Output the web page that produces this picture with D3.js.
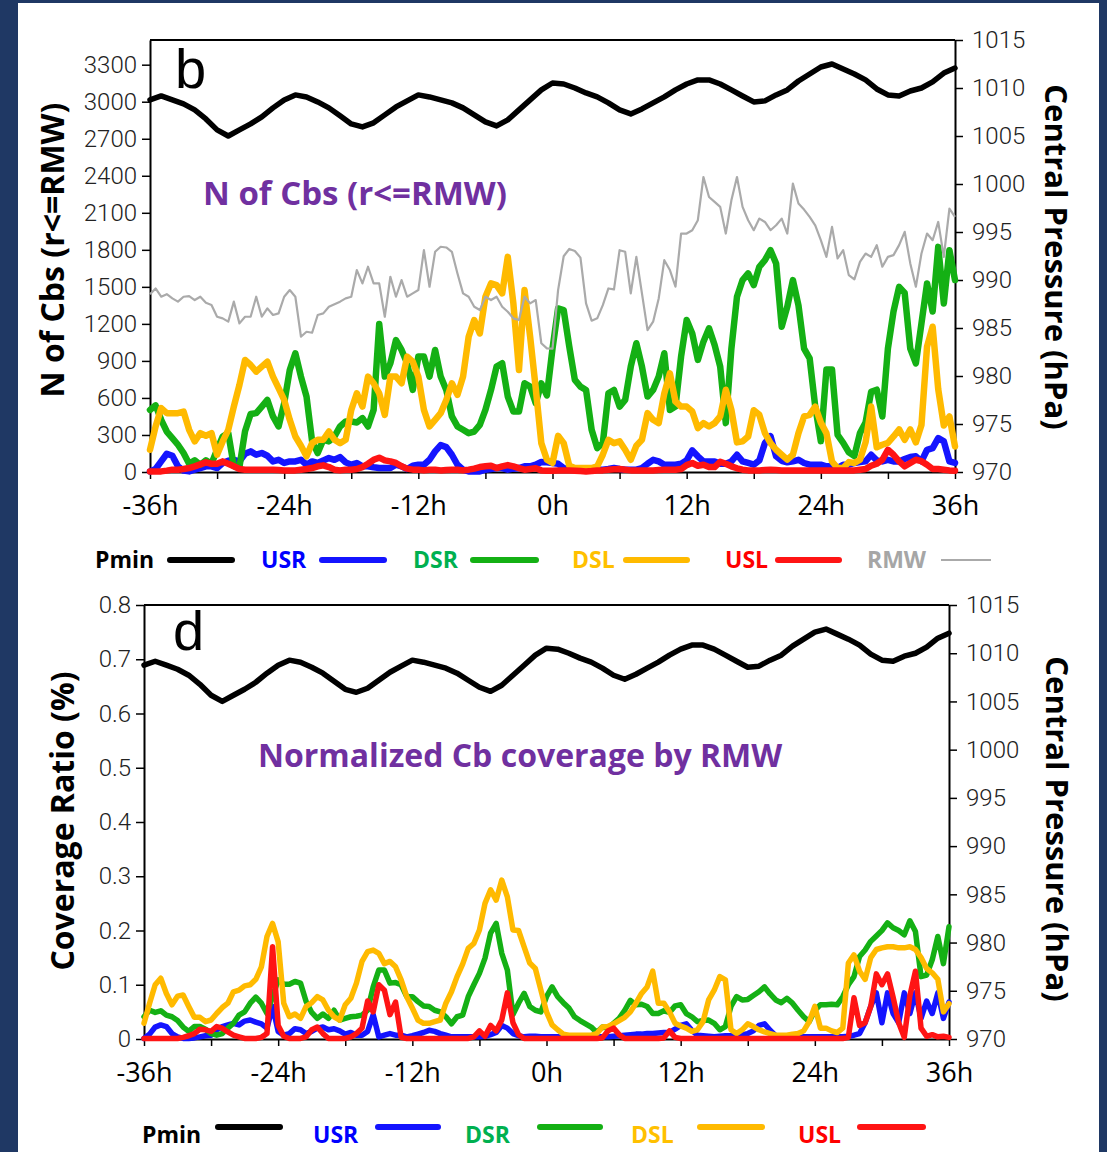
<!DOCTYPE html>
<html>
<head>
<meta charset="utf-8">
<script src="https://cdn.jsdelivr.net/npm/d3@7"></script>
<style>
  html, body { margin: 0; padding: 0; background: #1F3864; }
  svg { display: block; }
</style>
</head>
<body>
<svg id="chart" width="1107" height="1152"></svg>
<script>
// ---------- time axes ----------
const halfHours = d3.range(-36, 36.25, 0.5);   // 145 half-hourly stamps
const hours = d3.range(-36, 36.5, 1);          // 73 hourly stamps
const hourTicks = [-36, -30, -24, -18, -12, -6, 0, 6, 12, 18, 24, 30, 36];

// ---------- minimum central pressure (hPa), hourly ----------
const pmin = [
  1008.76, 1009.17, 1008.76, 1008.34, 1007.72, 1006.78, 1005.64, 1005.00, 1005.64, 1006.26,
  1006.99, 1007.93, 1008.76, 1009.28, 1009.07, 1008.55, 1007.93, 1007.10, 1006.26, 1005.95,
  1006.37, 1007.20, 1008.03, 1008.66, 1009.28, 1009.07, 1008.76, 1008.45, 1007.93, 1007.20,
  1006.47, 1006.05, 1006.68, 1007.72, 1008.76, 1009.80, 1010.52, 1010.42, 1010.00, 1009.49,
  1009.07, 1008.45, 1007.72, 1007.30, 1007.82, 1008.45, 1009.07, 1009.80, 1010.42, 1010.84,
  1010.84, 1010.42, 1009.80, 1009.17, 1008.55, 1008.66, 1009.28, 1009.80, 1010.73, 1011.46,
  1012.19, 1012.50, 1011.98, 1011.46, 1010.84, 1009.90, 1009.28, 1009.17, 1009.69, 1010.00,
  1010.63, 1011.56, 1012.08
];

// ---------- number of Cbs inside RMW, half-hourly ----------
const cbUSR = [
  5, 24, 86, 148, 132, 46, 11, 5, 19, 32,
  46, 46, 32, 73, 91, 99, 86, 148, 167, 140,
  154, 132, 86, 99, 73, 86, 86, 99, 59, 86,
  73, 94, 113, 99, 121, 78, 59, 73, 46, 46,
  38, 32, 32, 32, 59, 46, 24, 51, 59, 59,
  99, 167, 218, 202, 140, 59, 19, 5, 5, 5,
  19, 24, 32, 32, 19, 27, 32, 46, 46, 59,
  81, 78, 73,
  67, 32, 19, 19, 19, 19, 19, 19, 19, 24,
  32, 24, 19, 19, 19, 32, 67, 99, 86, 59,
  59, 59, 67, 94, 175, 127, 86, 86, 86, 67,
  67, 86, 140, 86, 73, 59, 94, 234, 290, 127,
  91, 78, 86, 99, 73, 59, 59, 59, 46, 46,
  32, 59, 59, 73, 81, 86, 140, 94, 86, 99,
  86, 86, 105, 121, 127, 86, 180, 194, 275, 248,
  86, 73
];
const cbDSR = [
  503, 540, 423, 328, 275, 221, 154, 67, 94, 59,
  94, 67, 180, 288, 315, 46, 40, 330, 470, 477,
  530, 584, 450, 369, 557, 826, 962, 773, 611, 248,
  154, 261, 248, 288, 369, 409, 409, 401, 436, 369,
  503, 1200, 773, 881, 1069, 989, 881, 665, 935, 935,
  773, 989, 773, 665, 450, 369, 342, 315, 328, 382,
  503, 665, 854, 881, 611, 490, 490, 719, 692, 557,
  719, 620, 1000,
  1325, 1312, 1016, 746, 692, 665, 342, 194, 234, 638,
  665, 530, 584, 854, 1043, 854, 611, 665, 773, 962,
  503, 530, 935, 1231, 1123, 908, 1056, 1164, 1029, 854,
  396, 1000, 1420, 1555, 1609, 1514, 1663, 1716, 1797, 1690,
  1177, 1339, 1555, 1350, 1000, 920, 530, 250, 830, 830,
  300, 236, 160, 130, 315, 400, 650, 667, 450, 1000,
  1300, 1500, 1450, 1000, 880, 1204, 1528, 1300, 1824, 1366,
  1797, 1555
];
const cbDSL = [
  180, 369, 517, 477, 477, 477, 490, 342, 248, 315,
  294, 315, 140, 248, 342, 530, 706, 908, 867, 813,
  854, 894, 773, 679, 584, 423, 288, 213, 127, 234,
  261, 261, 328, 261, 234, 261, 503, 638, 530, 773,
  719, 638, 463, 773, 773, 719, 935, 894, 773, 503,
  369, 423, 477, 584, 719, 625, 773, 1096, 1231, 1123,
  1420, 1528, 1514, 1447, 1743, 1366, 826, 1474, 1096, 679,
  234, 99, 73,
  293, 234, 51, 32, 32, 32, 32, 46, 140, 261,
  234, 248, 180, 99, 213, 261, 477, 423, 396, 638,
  800, 571, 530, 530, 490, 356, 396, 369, 396, 451,
  666, 503, 240, 248, 288, 500, 463, 315, 234, 180,
  140, 100, 140, 315, 450, 463, 530, 400, 315, 85,
  32, 32, 80, 73, 99, 240, 530, 200, 221, 236,
  288, 345, 261, 345, 240, 380, 1016, 1177, 670, 377,
  450, 207
];
const cbUSL = [
  5, 5, 5, 11, 19, 19, 24, 32, 46, 62,
  78, 67, 67, 86, 67, 46, 24, 19, 19, 19,
  19, 19, 19, 16, 13, 13, 13, 19, 24, 32,
  46, 54, 40, 19, 13, 19, 19, 24, 40, 67,
  99, 116, 94, 86, 73, 46, 27, 19, 19, 13,
  19, 19, 13, 16, 19, 19, 13, 19, 27, 40,
  46, 51, 32, 46, 56, 46, 32, 19, 24, 30,
  13, 11, 11,
  13, 13, 13, 11, 8, 5, 8, 13, 13, 19,
  22, 24, 19, 13, 13, 13, 13, 13, 16, 19,
  19, 19, 24, 56, 73, 51, 59, 40, 40, 83,
  67, 46, 30, 19, 13, 13, 13, 16, 19, 16,
  13, 13, 13, 13, 13, 13, 13, 13, 13, 13,
  13, 13, 13, 13, 19, 24, 51, 67, 99, 180,
  140, 86, 46, 73, 99, 88, 59, 24, 24, 19,
  13, 11
];
const rmw = [
  1440, 1487, 1420, 1441, 1407, 1380, 1420, 1425, 1393, 1420,
  1371, 1353, 1258, 1245, 1218, 1380, 1204, 1258, 1258, 1420,
  1258, 1326, 1272, 1285, 1420, 1474, 1420, 1096, 1136, 1128,
  1272, 1285, 1339, 1360, 1380, 1407, 1420, 1636, 1528, 1663,
  1528, 1528, 1258, 1582, 1420, 1555, 1420, 1447, 1474, 1798,
  1501, 1784, 1825, 1819, 1784, 1609, 1447, 1420, 1339, 1312,
  1420, 1393, 1420, 1339, 1298, 1245, 1231, 1420, 1366, 1393,
  1043, 1002, 1000,
  1474, 1748, 1807, 1791, 1737, 1366, 1226, 1245, 1352, 1487,
  1479, 1797, 1784, 1447, 1743, 1447, 1150, 1218, 1406, 1716,
  1636, 1501, 1932, 1932, 1959, 2040, 2390, 2228, 2188, 2148,
  1932, 2201, 2390, 2148, 2040, 1959, 2053, 2026, 1959, 1999,
  2053, 1932, 2336, 2175, 2126, 2067, 1999, 1878, 1743, 1986,
  1730, 1797, 1595, 1560, 1703, 1770, 1743, 1838, 1663, 1743,
  1757, 1838, 1946, 1690, 1501, 1770, 1932, 1878, 2026, 1743,
  2134, 2067
];

// ---------- Cb coverage ratio normalized by RMW, half-hourly ----------
const covUSR = [
  0.001, 0.009, 0.022, 0.026, 0.023, 0.010, 0.004, 0.001, 0.001, 0.002,
  0.004, 0.006, 0.007, 0.017, 0.023, 0.026, 0.029, 0.026, 0.033, 0.035,
  0.031, 0.028, 0.020, 0.060, 0.014, 0.007, 0.010, 0.019, 0.017, 0.010,
  0.014, 0.020, 0.022, 0.017, 0.019, 0.015, 0.009, 0.012, 0.007, 0.007,
  0.014, 0.045, 0.004, 0.007, 0.010, 0.007, 0.007, 0.004, 0.006, 0.009,
  0.012, 0.016, 0.014, 0.010, 0.007, 0.004, 0.004, 0.004, 0.004, 0.004,
  0.004, 0.005, 0.008, 0.012, 0.025, 0.020, 0.010, 0.006, 0.004, 0.005,
  0.005, 0.004, 0.004, 0.004, 0.004, 0.004, 0.004, 0.004, 0.004, 0.004,
  0.004, 0.004, 0.004, 0.004, 0.005, 0.006, 0.007, 0.008, 0.009, 0.009,
  0.010, 0.010, 0.011, 0.012, 0.012, 0.018, 0.025, 0.028, 0.016, 0.007,
  0.006, 0.005, 0.004, 0.005, 0.006, 0.006, 0.006, 0.008, 0.010, 0.015,
  0.025, 0.028, 0.016, 0.006, 0.004, 0.004, 0.004, 0.004, 0.004, 0.004,
  0.004, 0.004, 0.004, 0.004, 0.004, 0.004, 0.005, 0.007, 0.010, 0.030,
  0.060, 0.085, 0.030, 0.085, 0.047, 0.030, 0.085, 0.047, 0.085, 0.038,
  0.070, 0.047, 0.085, 0.038, 0.068
];
const covDSR = [
  0.041, 0.053, 0.049, 0.052, 0.044, 0.041, 0.034, 0.022, 0.014, 0.023,
  0.023, 0.018, 0.010, 0.007, 0.010, 0.020, 0.029, 0.044, 0.050, 0.066,
  0.077, 0.066, 0.047, 0.078, 0.109, 0.101, 0.101, 0.106, 0.103, 0.069,
  0.049, 0.038, 0.046, 0.038, 0.053, 0.035, 0.038, 0.041, 0.042, 0.044,
  0.053, 0.096, 0.127, 0.127, 0.103, 0.104, 0.100, 0.078, 0.078, 0.069,
  0.061, 0.060, 0.053, 0.050, 0.041, 0.028, 0.041, 0.044, 0.078, 0.100,
  0.121, 0.149, 0.195, 0.213, 0.158, 0.127, 0.045, 0.066, 0.084, 0.060,
  0.053, 0.050, 0.078, 0.096, 0.078, 0.067, 0.057, 0.041, 0.034, 0.028,
  0.022, 0.012, 0.022, 0.020, 0.029, 0.038, 0.053, 0.071, 0.063, 0.064,
  0.060, 0.047, 0.047, 0.052, 0.049, 0.061, 0.063, 0.047, 0.041, 0.032,
  0.034, 0.035, 0.029, 0.017, 0.023, 0.060, 0.078, 0.072, 0.073, 0.080,
  0.087, 0.096, 0.083, 0.072, 0.067, 0.075, 0.066, 0.053, 0.041, 0.032,
  0.053, 0.063, 0.063, 0.064, 0.063, 0.078, 0.100, 0.115, 0.152, 0.164,
  0.180, 0.190, 0.200, 0.214, 0.205, 0.200, 0.192, 0.218, 0.198, 0.115,
  0.118, 0.146, 0.189, 0.139, 0.207
];
const covDSL = [
  0.029, 0.066, 0.100, 0.112, 0.084, 0.063, 0.079, 0.081, 0.060, 0.040,
  0.040, 0.032, 0.035, 0.047, 0.058, 0.066, 0.087, 0.090, 0.098, 0.100,
  0.110, 0.133, 0.189, 0.213, 0.179, 0.066, 0.041, 0.046, 0.038, 0.060,
  0.067, 0.078, 0.072, 0.053, 0.041, 0.035, 0.063, 0.075, 0.103, 0.143,
  0.161, 0.164, 0.158, 0.139, 0.143, 0.133, 0.109, 0.078, 0.057, 0.035,
  0.029, 0.029, 0.032, 0.035, 0.066, 0.087, 0.115, 0.138, 0.167, 0.176,
  0.201, 0.250, 0.275, 0.256, 0.293, 0.262, 0.201, 0.200, 0.170, 0.140,
  0.130, 0.090, 0.050, 0.026, 0.017, 0.009, 0.007, 0.007, 0.007, 0.007,
  0.007, 0.010, 0.022, 0.023, 0.028, 0.034, 0.040, 0.050, 0.066, 0.084,
  0.096, 0.125, 0.066, 0.066, 0.050, 0.029, 0.024, 0.020, 0.014, 0.017,
  0.032, 0.072, 0.090, 0.115, 0.109, 0.017, 0.010, 0.017, 0.028, 0.023,
  0.017, 0.013, 0.010, 0.007, 0.007, 0.007, 0.009, 0.010, 0.015, 0.032,
  0.060, 0.020, 0.020, 0.015, 0.012, 0.020, 0.140, 0.155, 0.125, 0.110,
  0.150, 0.165, 0.168, 0.170, 0.170, 0.168, 0.168, 0.170, 0.165, 0.150,
  0.130, 0.122, 0.110, 0.050, 0.065
];
const covUSL = [
  0.001, 0.001, 0.001, 0.001, 0.001, 0.001, 0.001, 0.003, 0.006, 0.010,
  0.018, 0.017, 0.014, 0.023, 0.020, 0.013, 0.007, 0.004, 0.001, 0.001,
  0.001, 0.003, 0.010, 0.170, 0.025, 0.005, 0.001, 0.001, 0.001, 0.004,
  0.017, 0.022, 0.010, 0.001, 0.001, 0.001, 0.001, 0.004, 0.010, 0.020,
  0.070, 0.050, 0.100, 0.090, 0.045, 0.068, 0.003, 0.001, 0.001, 0.001,
  0.001, 0.001, 0.001, 0.001, 0.001, 0.001, 0.001, 0.001, 0.001, 0.004,
  0.015, 0.005, 0.025, 0.015, 0.035, 0.085, 0.030, 0.008, 0.001, 0.001,
  0.001, 0.001, 0.001, 0.001, 0.001, 0.001, 0.001, 0.001, 0.001, 0.001,
  0.001, 0.001, 0.002, 0.015, 0.020, 0.008, 0.001, 0.001, 0.001, 0.001,
  0.001, 0.001, 0.001, 0.002, 0.015, 0.003, 0.001, 0.001, 0.001, 0.001,
  0.001, 0.001, 0.001, 0.001, 0.001, 0.001, 0.001, 0.001, 0.001, 0.001,
  0.001, 0.001, 0.001, 0.001, 0.001, 0.001, 0.001, 0.001, 0.001, 0.001,
  0.001, 0.001, 0.001, 0.001, 0.001, 0.001, 0.003, 0.076, 0.025, 0.030,
  0.060, 0.120, 0.100, 0.120, 0.077, 0.030, 0.003, 0.080, 0.125, 0.020,
  0.005, 0.008, 0.004, 0.005, 0.003
];

// ---------- axis tick values ----------
const cbTicks = [0, 300, 600, 900, 1200, 1500, 1800, 2100, 2400, 2700, 3000, 3300];
const covTicks = [0, 0.1, 0.2, 0.3, 0.4, 0.5, 0.6, 0.7, 0.8];
const pressTicks = [970, 975, 980, 985, 990, 995, 1000, 1005, 1010, 1015];

// ---------- colours ----------
const COL = {
  pmin: "#000000", usr: "#1414FF", dsr: "#14B014", dsl: "#FFBA00",
  usl: "#FF1414", rmw: "#AAAAAA", title: "#7030A0"
};

const svg = d3.select("#chart");
svg.append("rect").attr("width", 1107).attr("height", 1152).attr("fill", "#1F3864");
svg.append("rect").attr("x", 18).attr("y", 3).attr("width", 1081).attr("height", 1152).attr("fill", "#ffffff");

const TICK_FONT = "Roboto, 'Liberation Sans', sans-serif";
const HOUR_FONT = "'Open Sans', 'DejaVu Sans', sans-serif";
const BOLD_FONT = "'Open Sans', 'DejaVu Sans', sans-serif";

function drawPanel(p) {
  const g = svg.append("g");
  const x = d3.scaleLinear().domain([-36, 36]).range([p.left, p.right]);
  const yL = d3.scaleLinear().domain(p.leftDomain).range([p.bottom, p.top]);
  const yR = d3.scaleLinear().domain([970, 1015]).range([p.bottom, p.top]);

  // top frame edge
  g.append("line")
    .attr("x1", p.left).attr("x2", p.right)
    .attr("y1", p.top).attr("y2", p.top)
    .attr("stroke", "#000").attr("stroke-width", 2);

  // left axis
  const gl = g.append("g").attr("transform", `translate(${p.left},0)`)
    .call(d3.axisLeft(yL).tickValues(p.leftTicks).tickFormat(p.leftFormat)
      .tickSize(8).tickSizeOuter(0).tickPadding(5));
  // right axis
  const gr = g.append("g").attr("transform", `translate(${p.right},0)`)
    .call(d3.axisRight(yR).tickValues(pressTicks).tickFormat(d => d)
      .tickSize(8).tickSizeOuter(0).tickPadding(9));
  [gl, gr].forEach(a => {
    a.select(".domain").attr("stroke", "#000").attr("stroke-width", 2);
    a.selectAll(".tick line").attr("stroke", "#000").attr("stroke-width", 1.5);
    a.selectAll(".tick text")
      .attr("font-family", TICK_FONT).attr("font-weight", 300)
      .attr("font-size", 24).attr("fill", "#222");
  });

  // bottom (time) axis
  const gb = g.append("g").attr("transform", `translate(0,${p.bottom})`)
    .call(d3.axisBottom(x).tickValues(hourTicks)
      .tickFormat(d => (d % 12 === 0 ? `${d}h` : ""))
      .tickSize(7).tickSizeOuter(0).tickPadding(p.hourPad));
  gb.select(".domain").attr("stroke", "#000").attr("stroke-width", 2);
  gb.selectAll(".tick line").attr("stroke", "#000").attr("stroke-width", 1.5);
  gb.selectAll(".tick text")
    .attr("font-family", HOUR_FONT).attr("font-size", 27).attr("fill", "#000");

  // series
  const halfLine = d3.line().x((d, i) => x(halfHours[i])).y(d => yL(d));
  p.series.forEach(s => {
    g.append("path").datum(s.values)
      .attr("d", halfLine)
      .attr("fill", "none").attr("stroke", s.color)
      .attr("stroke-width", s.width)
      .attr("stroke-linejoin", "round").attr("stroke-linecap", "round");
  });
  // pressure on the right-hand scale
  const pLine = d3.line().x((d, i) => x(hours[i])).y(d => yR(d));
  g.append("path").datum(pmin)
    .attr("d", pLine)
    .attr("fill", "none").attr("stroke", COL.pmin)
    .attr("stroke-width", 5.5)
    .attr("stroke-linejoin", "round").attr("stroke-linecap", "round");
  if (p.overlay) {
    g.append("path").datum(p.overlay.values)
      .attr("d", halfLine)
      .attr("fill", "none").attr("stroke", p.overlay.color)
      .attr("stroke-width", p.overlay.width)
      .attr("stroke-linejoin", "round");
  }

  // panel letter
  g.append("text").attr("x", p.letterX).attr("y", p.letterY)
    .attr("font-family", "'Liberation Sans', Arial, sans-serif")
    .attr("font-size", 56).attr("fill", "#000").text(p.letter);

  // in-plot title
  g.append("text").attr("x", p.titleX).attr("y", p.titleY)
    .attr("font-family", BOLD_FONT).attr("font-weight", 700)
    .attr("font-size", p.titleSize).attr("fill", COL.title).text(p.title);

  // axis titles
  g.append("text")
    .attr("transform", `translate(${p.yTitleX},${p.yTitleY}) rotate(-90)`)
    .attr("text-anchor", "middle").attr("dy", "0.35em")
    .attr("font-family", BOLD_FONT).attr("font-weight", 700)
    .attr("font-size", 32).attr("fill", "#000").text(p.yTitle);
  g.append("text")
    .attr("transform", `translate(${p.rTitleX},${p.rTitleY}) rotate(90)`)
    .attr("text-anchor", "middle").attr("dy", "0.35em")
    .attr("font-family", BOLD_FONT).attr("font-weight", 700)
    .attr("font-size", 31).attr("fill", "#000").text("Central Pressure (hPa)");

  // legend row
  const lg = g.append("g");
  p.legend.forEach(it => {
    lg.append("text").attr("x", it.tx).attr("y", p.legendTextY)
      .attr("font-family", BOLD_FONT).attr("font-weight", 700)
      .attr("font-size", 23).attr("fill", it.textColor).text(it.name);
    lg.append("line")
      .attr("x1", it.x1).attr("x2", it.x2)
      .attr("y1", p.legendLineY).attr("y2", p.legendLineY)
      .attr("stroke", it.color).attr("stroke-width", it.w)
      .attr("stroke-linecap", it.w > 3 ? "round" : "butt");
  });
}

// upper panel: Cb counts
drawPanel({
  left: 150, right: 955, top: 40, bottom: 472,
  leftDomain: [0, 3500], leftTicks: cbTicks, leftFormat: d => d,
  hourPad: 17,
  series: [
    { values: cbUSR, color: COL.usr, width: 6.5 },
    { values: cbDSR, color: COL.dsr, width: 6.5 },
    { values: cbDSL, color: COL.dsl, width: 6.5 },
    { values: cbUSL, color: COL.usl, width: 6.5 }
  ],
  overlay: { values: rmw, color: COL.rmw, width: 2.2 },
  letter: "b", letterX: 175, letterY: 88,
  title: "N of Cbs (r<=RMW)", titleX: 203, titleY: 205, titleSize: 33,
  yTitle: "N of Cbs (r<=RMW)", yTitleX: 53, yTitleY: 250,
  rTitleX: 1056, rTitleY: 257,
  legendTextY: 568, legendLineY: 560,
  legend: [
    { name: "Pmin", tx: 95,  x1: 170, x2: 232, color: COL.pmin, textColor: "#000000", w: 6 },
    { name: "USR",  tx: 261, x1: 322, x2: 384, color: COL.usr,  textColor: "#0000FF", w: 6 },
    { name: "DSR",  tx: 413, x1: 473, x2: 536, color: COL.dsr,  textColor: "#00B050", w: 6 },
    { name: "DSL",  tx: 572, x1: 626, x2: 687, color: COL.dsl,  textColor: "#FFC000", w: 6 },
    { name: "USL",  tx: 725, x1: 778, x2: 839, color: COL.usl,  textColor: "#FF0000", w: 6 },
    { name: "RMW",  tx: 867, x1: 941, x2: 991, color: COL.rmw,  textColor: "#A6A6A6", w: 2 }
  ]
});

// lower panel: normalized coverage
drawPanel({
  left: 144, right: 949, top: 605, bottom: 1039,
  leftDomain: [0, 0.8], leftTicks: covTicks, leftFormat: d => (d === 0 ? "0" : d3.format(".1f")(d)),
  hourPad: 17,
  series: [
    { values: covUSR, color: COL.usr, width: 5.5 },
    { values: covDSR, color: COL.dsr, width: 5.5 },
    { values: covDSL, color: COL.dsl, width: 5.5 },
    { values: covUSL, color: COL.usl, width: 5.5 }
  ],
  overlay: null,
  letter: "d", letterX: 173, letterY: 650,
  title: "Normalized Cb coverage by RMW", titleX: 258, titleY: 767, titleSize: 32,
  yTitle: "Coverage Ratio (%)", yTitleX: 63, yTitleY: 821,
  rTitleX: 1057, rTitleY: 829,
  legendTextY: 1143, legendLineY: 1127,
  legend: [
    { name: "Pmin", tx: 142, x1: 218, x2: 280, color: COL.pmin, textColor: "#000000", w: 6 },
    { name: "USR",  tx: 313, x1: 378, x2: 438, color: COL.usr,  textColor: "#0000FF", w: 6 },
    { name: "DSR",  tx: 465, x1: 540, x2: 600, color: COL.dsr,  textColor: "#00B050", w: 6 },
    { name: "DSL",  tx: 631, x1: 700, x2: 762, color: COL.dsl,  textColor: "#FFC000", w: 6 },
    { name: "USL",  tx: 798, x1: 860, x2: 923, color: COL.usl,  textColor: "#FF0000", w: 6 }
  ]
});
</script>
</body>
</html>
